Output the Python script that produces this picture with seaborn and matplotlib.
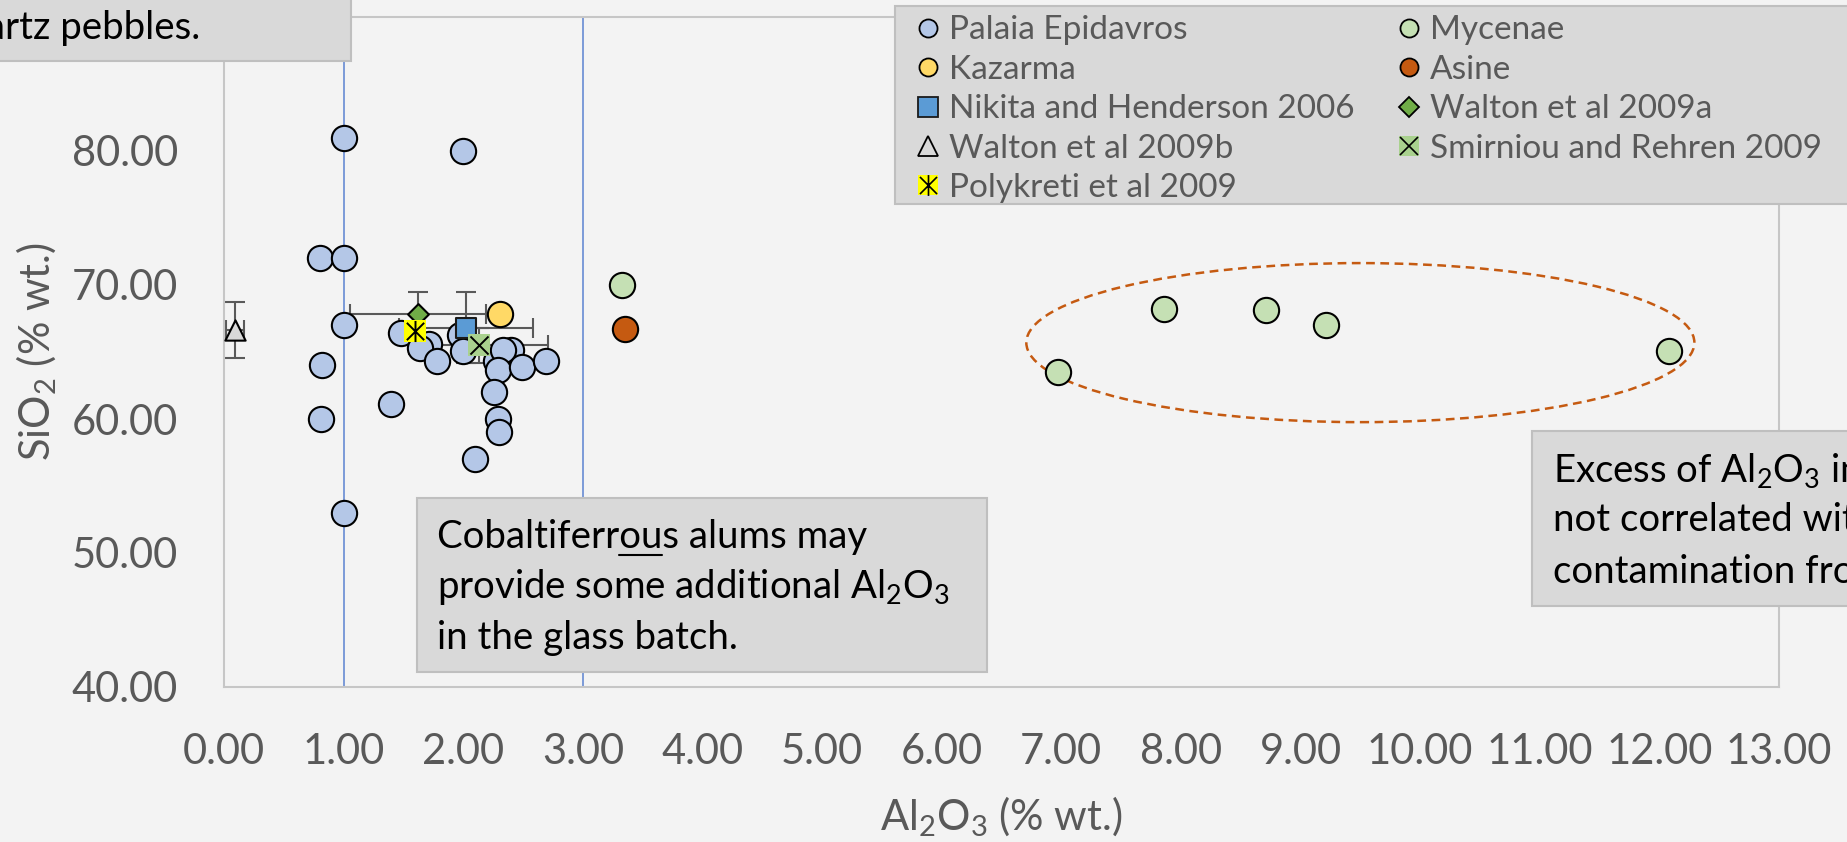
import numpy as np
import pandas as pd
import matplotlib
matplotlib.use("Agg")
import matplotlib.pyplot as plt
import seaborn as sns
from matplotlib.patches import Rectangle, Ellipse
from matplotlib.lines import Line2D
from matplotlib.path import Path
from matplotlib.ticker import FormatStrFormatter
from matplotlib.legend_handler import HandlerTuple

# ---------------- data: Al2O3 vs SiO2 (% wt.) ----------------
palaia_al = [1.00, 2.00, 0.80, 1.00, 1.00, 0.82, 0.81, 1.40, 2.10, 1.00, 1.48, 1.71, 1.64,
             1.78, 1.97, 2.00, 2.27, 2.40, 2.33, 2.29, 2.49, 2.69, 2.26, 2.29, 2.30]
palaia_si = [81.0, 80.0, 72.0, 72.0, 67.0, 64.0, 60.0, 61.1, 57.0, 53.0, 66.4, 65.6, 65.3,
             64.35, 66.3, 65.1, 64.3, 65.15, 65.15, 63.65, 63.9, 64.3, 62.05, 60.0, 59.05]

mycenae_al = [3.33, 6.97, 7.86, 8.71, 9.21, 12.08]
mycenae_si = [70.0, 63.5, 68.2, 68.1, 67.0, 65.1]

kazarma_al = [2.31]
kazarma_si = [67.8]

asine_al = [3.35]
asine_si = [66.7]

nikita_al, nikita_si = [2.02], [66.8]
nikita_xerr, nikita_yerr = [0.56], [2.65]

walton_a_al, walton_a_si = [1.62], [67.8]
walton_a_xerr, walton_a_yerr = [0.57], [1.65]

walton_b_al, walton_b_si = [0.09], [66.65]
walton_b_xerr, walton_b_yerr = [0.075], [2.07]

smirniou_al, smirniou_si = [2.13], [65.5]
smirniou_xerr, smirniou_yerr = [0.58], [1.3]

polykreti_al, polykreti_si = [1.60], [66.6]

al_limits = [1.0, 3.0]                      # vertical reference lines
mycenae_group = dict(center=(9.50, 65.7), width=5.585, height=11.87)

x_ticks = list(range(0, 14))
y_ticks = [40, 50, 60, 70, 80]

# ---------------- style ----------------
BG = "#f3f3f3"
LABC = "#595959"
SPINE = "#c6c6c6"
BOXF = "#d9d9d9"
BOXE = "#bfbfbf"
ERRC = "#595959"

sns.set_theme(style="white")
plt.rcParams.update({
    "font.family": ["Lato", "DejaVu Sans"],
    "mathtext.fontset": "custom",
    "mathtext.rm": "Lato",
    "mathtext.it": "Lato:italic",
    "mathtext.bf": "Lato:bold",
    "mathtext.default": "regular",
    "figure.facecolor": BG,
    "axes.facecolor": BG,
    "savefig.facecolor": BG,
})

W, H = 1847, 842
fig = plt.figure(figsize=(W / 100, H / 100), dpi=100)


def fx(px):
    return px / W


def fy(py):
    return 1 - py / H


ax_l, ax_r, ax_t, ax_b = 224, 1779, 17, 687
ax = fig.add_axes([fx(ax_l), fy(ax_b), fx(ax_r) - fx(ax_l), fy(ax_t) - fy(ax_b)])

frames = []
for name, xs, ys in [
    ("Palaia Epidavros", palaia_al, palaia_si),
    ("Mycenae", mycenae_al, mycenae_si),
    ("Kazarma", kazarma_al, kazarma_si),
    ("Asine", asine_al, asine_si),
    ("Nikita and Henderson 2006", nikita_al, nikita_si),
    ("Walton et al 2009a", walton_a_al, walton_a_si),
    ("Walton et al 2009b", walton_b_al, walton_b_si),
    ("Smirniou and Rehren 2009", smirniou_al, smirniou_si),
    ("Polykreti et al 2009", polykreti_al, polykreti_si),
]:
    frames.append(pd.DataFrame({"Al2O3": xs, "SiO2": ys, "site": name}))
df = pd.concat(frames, ignore_index=True)


def sub(name):
    return df[df["site"] == name]


# reference lines and the Mycenae grouping
for xv in al_limits:
    ax.axvline(xv, color="#5b82d0", lw=1.1, zorder=1.5)
ax.add_patch(Ellipse(mycenae_group["center"], mycenae_group["width"], mycenae_group["height"],
                     fill=False, edgecolor="#c55a11", lw=1.8, linestyle=(0, (3.5, 2.2)), zorder=1.6))

# error bars
for xs, ys, xe, ye in [
    (nikita_al, nikita_si, nikita_xerr, nikita_yerr),
    (walton_a_al, walton_a_si, walton_a_xerr, walton_a_yerr),
    (walton_b_al, walton_b_si, walton_b_xerr, walton_b_yerr),
    (smirniou_al, smirniou_si, smirniou_xerr, smirniou_yerr),
]:
    ax.errorbar(xs, ys, xerr=xe, yerr=ye, fmt="none", ecolor=ERRC, elinewidth=1.5,
                capsize=7.5, capthick=1.5, zorder=2)

circ_s = 18.2 ** 2
edge_lw = 1.5
common = dict(x="Al2O3", y="SiO2", ax=ax, legend=False)

sns.scatterplot(data=sub("Palaia Epidavros"), marker="o", s=circ_s, color="#b4c7e7",
                edgecolor="black", linewidth=edge_lw, zorder=3, **common)
sns.scatterplot(data=sub("Mycenae"), marker="o", s=circ_s, color="#c5e0b4",
                edgecolor="black", linewidth=edge_lw, zorder=3, **common)
sns.scatterplot(data=sub("Kazarma"), marker="o", s=circ_s, color="#ffd966",
                edgecolor="black", linewidth=edge_lw, zorder=3, **common)
sns.scatterplot(data=sub("Asine"), marker="o", s=circ_s, color="#c55a11",
                edgecolor="black", linewidth=edge_lw, zorder=3, **common)
sns.scatterplot(data=sub("Nikita and Henderson 2006"), marker="s", s=14.0 ** 2, color="#5b9bd5",
                edgecolor="#1a1a1a", linewidth=edge_lw, zorder=4, **common)
sns.scatterplot(data=sub("Walton et al 2009a"), marker="D", s=10.6 ** 2, color="#70ad47",
                edgecolor="black", linewidth=edge_lw, zorder=4.1, **common)
sns.scatterplot(data=sub("Walton et al 2009b"), marker="^", s=14.6 ** 2, color="#d9d9d9",
                edgecolor="black", linewidth=edge_lw, zorder=4.2, **common)
sns.scatterplot(data=sub("Smirniou and Rehren 2009"), marker="s", s=15.2 ** 2, color="#a9d18e",
                linewidth=0, zorder=4.3, **common)
sns.scatterplot(data=sub("Smirniou and Rehren 2009"), marker="x", s=13.0 ** 2, color="black",
                linewidth=1.4, zorder=4.4, **common)

asterisk = Path([(0, -1), (0, 1), (-0.82, -0.82), (0.82, 0.82), (-0.82, 0.82), (0.82, -0.82)],
                [Path.MOVETO, Path.LINETO, Path.MOVETO, Path.LINETO, Path.MOVETO, Path.LINETO])
sns.scatterplot(data=sub("Polykreti et al 2009"), marker="s", s=15.2 ** 2, color="#ffff00",
                linewidth=0, zorder=4.5, **common)
sns.scatterplot(data=sub("Polykreti et al 2009"), marker=asterisk, s=15.2 ** 2, color="black",
                edgecolor="black", linewidth=1.4, zorder=4.6, **common)

# axes
ax.set_xlim(0, 13)
ax.set_ylim(40, 90)
ax.set_xticks(x_ticks)
ax.set_yticks(y_ticks)
ax.xaxis.set_major_formatter(FormatStrFormatter("%.2f"))
ax.yaxis.set_major_formatter(FormatStrFormatter("%.2f"))
ax.tick_params(direction="in", length=11, width=1.4, color="#cfcfcf",
               labelsize=30, labelcolor=LABC, pad=33)
for sp in ax.spines.values():
    sp.set_visible(True)
    sp.set_color(SPINE)
    sp.set_linewidth(1.5)
ax.grid(False)

ax.set_xlabel("Al$_2$O$_3$ (% wt.)", fontsize=30, color=LABC)
ax.xaxis.label.set_va("baseline")
ax.xaxis.set_label_coords(0.5, (ax_b - 830) / (ax_b - ax_t))
ax.set_ylabel("SiO$_2$ (% wt.)", fontsize=30, color=LABC)
ax.yaxis.label.set_va("baseline")
ax.yaxis.set_label_coords((50 - ax_l) / (ax_r - ax_l), 0.5)


# ---------------- callout boxes ----------------
def box(x0, y0, x1, y1, z=5):
    fig.add_artist(Rectangle((fx(x0), fy(y1)), fx(x1) - fx(x0), fy(y0) - fy(y1),
                             transform=fig.transFigure, facecolor=BOXF, edgecolor=BOXE,
                             lw=1.5, zorder=z))


def line_text(x, base, s, **kw):
    return fig.text(fx(x), fy(base), s, fontsize=27.6, color="black", va="baseline",
                    zorder=6, **kw)


box(-10, -10, 351, 61)
line_text(200, 39.3, "quartz pebbles.", ha="right")

box(416.5, 497.7, 986.6, 672.3)
cob_lines = ["Cobaltiferrous alums may", "provide some additional Al$_2$O$_3$", "in the glass batch."]
for s, b in zip(cob_lines, [548.3, 598.3, 649.3]):
    line_text(437, b, s, ha="left")

# underline "ou" in "Cobaltiferrous"
fig.canvas.draw()
rend = fig.canvas.get_renderer()
probe_a = line_text(437, 548.3, "Cobaltiferr", ha="left", alpha=0)
probe_b = line_text(437, 548.3, "Cobaltiferrou", ha="left", alpha=0)
xa = probe_a.get_window_extent(rend).x1
xb = probe_b.get_window_extent(rend).x1
probe_a.remove()
probe_b.remove()
x_origin = fig.transFigure.transform((fx(437), 0))[0]
x0_px = 437 + (xa - x_origin)
x1_px = 437 + (xb - x_origin)
fig.add_artist(Line2D([fx(x0_px), fx(x1_px)], [fy(554.5), fy(554.5)], color="black", lw=1.5,
                      transform=fig.transFigure, zorder=6))

box(1532.3, 431, 1870, 605.7)
exc_lines = ["Excess of Al$_2$O$_3$ in", "not correlated with", "contamination from"]
for s, b in zip(exc_lines, [481.7, 531, 582.7]):
    line_text(1553.3, b, s, ha="left")

# ---------------- legend ----------------
box(895.4, 5.7, 1870, 204, z=5)


def mk(marker, ms, fc, ec="black", mew=1.3):
    return Line2D([], [], ls="none", marker=marker, ms=ms, mfc=fc, mec=ec, mew=mew)


leg_left = [
    (mk("o", 13.0, "#b4c7e7"), "Palaia Epidavros"),
    (mk("o", 13.0, "#ffd966"), "Kazarma"),
    (mk("s", 14.5, "#5b9bd5", "#1a1a1a"), "Nikita and Henderson 2006"),
    (mk("^", 14.0, "#d9d9d9"), "Walton et al 2009b"),
    ((mk("s", 15.0, "#ffff00", "none", 0), mk(asterisk, 15.0, "none", "black", 1.2)),
     "Polykreti et al 2009"),
]
leg_right = [
    (mk("o", 13.0, "#c5e0b4"), "Mycenae"),
    (mk("o", 13.0, "#c55a11"), "Asine"),
    (mk("D", 10.5, "#70ad47"), "Walton et al 2009a"),
    ((mk("s", 15.0, "#a9d18e", "none", 0), mk("x", 12.5, "none", "black", 1.2)),
     "Smirniou and Rehren 2009"),
]

fs_leg = 24
fs_px = fs_leg * 100 / 72
hl = 0.8
for items, mx in [(leg_left, 927.5), (leg_right, 1408.5)]:
    lg = fig.legend([h for h, _ in items], [t for _, t in items],
                    loc="upper left", bbox_to_anchor=(fx(mx - hl * fs_px / 2), fy(15.3)),
                    bbox_transform=fig.transFigure, frameon=False, fontsize=fs_leg,
                    handlelength=hl, handletextpad=0.246, borderpad=0, borderaxespad=0,
                    labelspacing=0.283, labelcolor=LABC,
                    handler_map={tuple: HandlerTuple(ndivide=1, pad=0)})
    lg.set_zorder(7)

fig.savefig("out.png", dpi=100)
